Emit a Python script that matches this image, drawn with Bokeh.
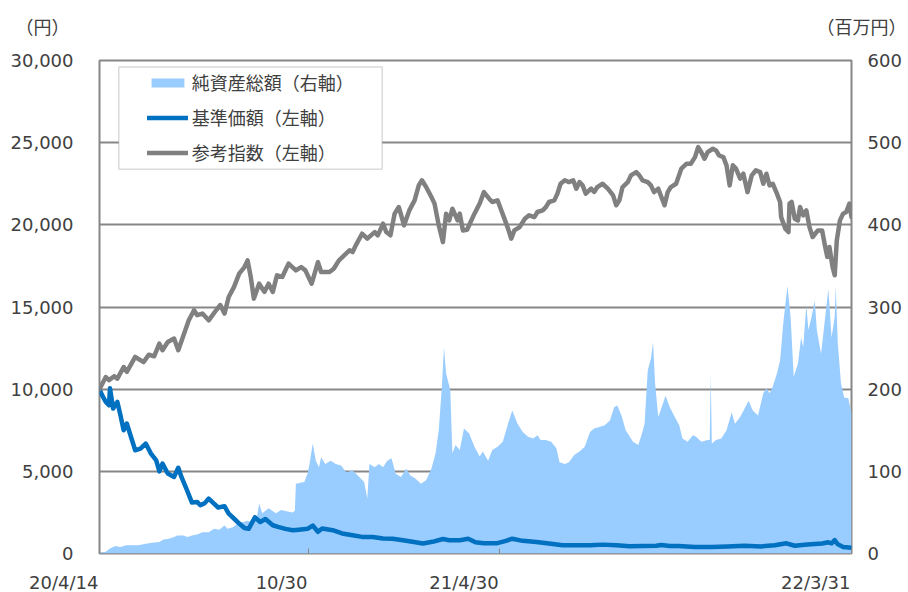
import pandas as pd
from bokeh.plotting import figure
from bokeh.layouts import column
from bokeh.models import (Range1d, LinearAxis, FixedTicker, NumeralTickFormatter,
                          Legend, LegendItem, Label, BoxAnnotation)
from bokeh.embed import file_html
from bokeh.resources import INLINE

START = pd.Timestamp("2020-04-14")
END = pd.Timestamp("2022-03-31")

# 純資産総額 (百万円, right axis): day offset from 2020-04-14, value
aum_day = [0, 6, 10, 15, 20, 25, 31, 37, 44, 50, 57, 61, 66, 71, 74, 80, 84, 88, 93, 98,
           104, 109, 114, 119, 122, 127, 131, 136, 141, 146, 150, 152, 155, 161, 168, 173, 179, 184, 186, 187,
           195, 198, 200, 203, 206, 209, 211, 215, 220, 225, 230, 235, 241, 246, 252, 255, 257, 262, 266, 270,
           274, 278, 282, 287, 292, 296, 301, 306, 311, 316, 320, 323, 326, 328, 330, 334, 336, 339, 343, 347,
           352, 357, 362, 365, 370, 374, 379, 384, 389, 393, 398, 403, 408, 413, 417, 420, 425, 430, 435, 438,
           443, 447, 452, 457, 462, 467, 471, 476, 481, 486, 490, 493, 497, 501, 508, 513, 516, 519, 522, 525,
           527, 529, 532, 535, 539, 543, 547, 552, 555, 560, 565, 568, 573, 579, 581, 582, 583, 587, 592, 597,
           602, 605, 610, 614, 618, 622, 627, 632, 635, 638, 641, 645, 648, 651, 655, 658, 661, 665, 668, 670,
           673, 675, 678, 681, 683, 687, 691, 694, 697, 700, 701, 703, 706, 709, 713, 716]
aum_val = [0.5, 2, 6, 9, 8, 10, 10, 10, 12, 13, 14, 17, 18, 20, 22, 22, 20, 22, 23, 26,
           26, 30, 29, 34, 30, 32, 36, 38, 40, 38, 45, 61, 49, 55, 49, 53, 51, 50, 52, 85,
           87, 97, 109, 134, 113, 105, 117, 109, 113, 109, 107, 99, 101, 95, 87, 67, 109, 105, 109, 105,
           113, 116, 97, 93, 103, 95, 91, 85, 89, 103, 122, 150, 203, 251, 219, 199, 122, 132, 126, 152,
           146, 130, 118, 124, 113, 126, 130, 136, 158, 174, 158, 148, 142, 140, 144, 138, 138, 136, 128, 111,
           109, 111, 120, 124, 130, 148, 152, 154, 156, 162, 178, 180, 168, 150, 136, 132, 144, 158, 223, 237,
           257, 207, 166, 177, 192, 178, 168, 156, 140, 136, 144, 142, 136, 138, 138, 217, 134, 138, 140, 150,
           172, 158, 166, 176, 186, 174, 168, 195, 201, 195, 203, 219, 235, 280, 326, 288, 215, 231, 263, 251,
           302, 272, 288, 308, 272, 243, 288, 322, 263, 288, 326, 255, 207, 190, 189, 170]

# 基準価額 (円, left axis)
nav_day = [0, 2, 6, 9, 10, 13, 17, 20, 23, 26, 30, 34, 39, 44, 49, 54, 57, 60, 65, 71,
           75, 78, 83, 88, 93, 96, 100, 104, 109, 113, 119, 123, 128, 133, 138, 142, 148, 153, 158, 165,
           170, 177, 184, 190, 198, 203, 208, 212, 222, 231, 241, 250, 260, 270, 279, 289, 298, 308, 317, 327,
           333, 343, 351, 358, 366, 378, 387, 393, 403, 416, 428, 441, 454, 467, 479, 492, 505, 517, 530, 535,
           543, 551, 567, 583, 598, 614, 630, 643, 654, 662, 674, 688, 694, 697, 700, 703, 708, 716]
nav_val = [10000, 9700, 9220, 9020, 10050, 8820, 9220, 8400, 7500, 7910, 7090, 6280, 6380, 6690, 6080, 5670, 5000, 5470, 4870, 4660,
           5220, 4660, 3900, 3100, 3140, 2940, 3050, 3340, 3040, 2800, 2880, 2430, 2130, 1820, 1550, 1500, 2200, 1920, 2100, 1720,
           1620, 1500, 1420, 1450, 1500, 1700, 1320, 1520, 1420, 1220, 1110, 1010, 1000, 910, 900, 810, 710, 610, 710, 880,
           810, 810, 900, 680, 620, 620, 770, 900, 770, 700, 610, 500, 500, 500, 540, 500, 440, 460, 470, 520,
           460, 450, 400, 400, 430, 470, 430, 500, 620, 470, 550, 610, 680, 620, 810, 560, 400, 350]

# 参考指数 (円, left axis)
idx_day = [0, 6, 9, 14, 17, 23, 26, 34, 42, 47, 52, 57, 60, 65, 71, 75, 80, 85, 90, 93,
           98, 104, 111, 115, 119, 123, 128, 133, 138, 141, 144, 147, 152, 157, 161, 165, 169, 174, 180, 187,
           192, 196, 202, 208, 211, 219, 223, 228, 233, 238, 241, 244, 250, 255, 262, 265, 270, 273, 277, 281,
           285, 290, 295, 300, 304, 307, 311, 316, 319, 323, 327, 330, 333, 336, 341, 343, 346, 350, 357, 362,
           366, 371, 374, 379, 382, 385, 389, 392, 395, 400, 405, 409, 414, 417, 422, 425, 428, 433, 436, 439,
           443, 447, 451, 454, 457, 460, 463, 468, 471, 474, 479, 484, 489, 492, 495, 498, 503, 506, 511, 514,
           517, 522, 525, 528, 532, 535, 538, 541, 544, 549, 554, 559, 563, 567, 570, 573, 576, 579, 584, 587,
           590, 594, 597, 600, 603, 606, 610, 613, 617, 621, 625, 629, 632, 635, 638, 641, 645, 648, 649, 653,
           656, 657, 659, 662, 665, 667, 670, 673, 676, 679, 684, 688, 691, 693, 695, 698, 700, 702, 705, 708,
           711, 714, 716]
idx_val = [10000, 10740, 10550, 10790, 10640, 11350, 11050, 11960, 11650, 12100, 12000, 12770, 12370, 12870, 13080, 12370, 13280, 14190, 14800, 14500,
           14600, 14190, 14800, 15120, 14600, 15610, 16210, 17030, 17430, 17840, 16830, 15510, 16420, 15920, 16420, 15920, 16930, 16830, 17640, 17230,
           17430, 17230, 16420, 17735, 17130, 17130, 17330, 17840, 18140, 18450, 18345, 18750, 19460, 19160, 19560, 19360, 20070, 19560, 19360, 20680,
           21080, 19970, 20880, 21490, 22400, 22710, 22300, 21690, 21290, 19970, 18950, 20680, 20270, 20980, 20270, 20680, 19660, 19700, 20680, 21300,
           21990, 21590, 21390, 21490, 20980, 20470, 19770, 19160, 19660, 19860, 20370, 20580, 20470, 20780, 20880, 21080, 21390, 21490, 21900, 22500,
           22710, 22600, 22710, 22200, 22600, 22400, 21900, 22200, 22000, 22300, 22500, 22200, 21790, 21190, 21490, 22300, 22600, 23010, 23210, 23010,
           22710, 22600, 22400, 21990, 22200, 21690, 21190, 21990, 22300, 22500, 23420, 23720, 23720, 24120, 24730, 24420, 24020, 24420, 24630, 24530,
           24220, 24120, 23620, 22400, 23620, 23420, 22810, 23110, 21990, 23010, 23320, 23210, 22500, 23110, 22400, 22500, 21900, 21390, 20470, 19770,
           19560, 21290, 21390, 20370, 20270, 21080, 20580, 20880, 19860, 19260, 19660, 19660, 18650, 18040, 18650, 17430, 16930, 19050, 20270, 20680,
           20780, 21290, 20470]

x_tick_dates = ["2020-04-14", "2020-10-30", "2021-04-30", "2022-03-31"]
x_tick_labels = ["20/4/14", "10/30", "21/4/30", "22/3/31"]
left_ticks = [0, 5000, 10000, 15000, 20000, 25000, 30000]
right_ticks = [0, 100, 200, 300, 400, 500, 600]
series_names = ["純資産総額（右軸）", "基準価額（左軸）", "参考指数（左軸）"]
unit_left = "（円）"
unit_right = "（百万円）"

TEXT = "#404040"
GRID = "#878787"
NUM_FONT = "DejaVu Sans"
JP_FONT = "Noto Sans CJK JP"

W = 908
TOP_H, MAIN_H, BOT_H = 48, 517, 27
FRAME_L, FRAME_R = 99, 851          # plot box edges on the page


def to_dates(days):
    return [(START + pd.Timedelta(days=d)).to_pydatetime() for d in days]


def ms(d):
    return pd.Timestamp(d).value / 1e6


def no_frame_align(fig):
    try:
        fig.frame_align = False
    except Exception:
        pass


# ---------- strip above: unit captions ----------
top = figure(width=W, height=TOP_H, x_range=Range1d(0, W), y_range=Range1d(0, TOP_H),
             x_axis_location=None, y_axis_location=None, min_border=0,
             output_backend="svg", toolbar_location=None)
no_frame_align(top)
top.outline_line_color = None
top.grid.visible = False
top.add_layout(Label(x=15, y=TOP_H - 25, x_units="screen", y_units="screen", text=unit_left,
                     text_align="left", text_baseline="middle",
                     text_font=JP_FONT, text_font_size="18px", text_color=TEXT))
top.add_layout(Label(x=W - 2, y=TOP_H - 25, x_units="screen", y_units="screen", text=unit_right,
                     text_align="right", text_baseline="middle",
                     text_font=JP_FONT, text_font_size="18px", text_color=TEXT))

# ---------- main chart ----------
p = figure(width=W, height=MAIN_H, x_axis_type="datetime",
           x_range=Range1d(START.to_pydatetime(), END.to_pydatetime()),
           y_range=Range1d(0, 30000),
           output_backend="svg", toolbar_location=None,
           min_border_left=FRAME_L, min_border_right=W - FRAME_R,
           min_border_top=12, min_border_bottom=12)
no_frame_align(p)
p.extra_y_ranges = {"aum": Range1d(0, 600)}
p.outline_line_color = GRID
p.outline_line_width = 2

area = p.varea(x=to_dates(aum_day), y1=0, y2=aum_val, y_range_name="aum",
               fill_color="#99CCFF", fill_alpha=1.0)
nav = p.line(to_dates(nav_day), nav_val, line_color="#0070C0", line_width=4.5,
             line_join="round", line_cap="round")
idx = p.line(to_dates(idx_day), idx_val, line_color="#808080", line_width=4.5,
             line_join="round", line_cap="round")

ya = p.yaxis[0]
ya.ticker = FixedTicker(ticks=left_ticks)
ya.formatter = NumeralTickFormatter(format="0,0")
ya.axis_line_color = None
ya.major_tick_line_color = None
ya.minor_tick_line_color = None
ya.major_tick_out = 0
ya.major_tick_in = 0
ya.axis_label_standoff = 0
ya.major_label_standoff = 26
ya.major_label_text_font = NUM_FONT
ya.major_label_text_font_size = "18px"
ya.major_label_text_color = TEXT

ra = LinearAxis(y_range_name="aum", ticker=FixedTicker(ticks=right_ticks))
ra.axis_line_color = None
ra.major_tick_line_color = None
ra.minor_tick_line_color = None
ra.major_tick_out = 0
ra.major_tick_in = 0
ra.axis_label_standoff = 0
ra.major_label_standoff = 16
ra.major_label_text_font = NUM_FONT
ra.major_label_text_font_size = "18px"
ra.major_label_text_color = TEXT
p.add_layout(ra, "right")

xa = p.xaxis[0]
tick_ms = [ms(d) for d in x_tick_dates]
xa.ticker = FixedTicker(ticks=tick_ms)
xa.major_label_overrides = {t: "" for t in tick_ms}
xa.major_label_standoff = 0
xa.major_label_text_font_size = "1px"
xa.axis_line_color = None
xa.major_tick_in = 5
xa.major_tick_out = 0
xa.major_tick_line_color = GRID
xa.major_tick_line_width = 1
xa.minor_tick_line_color = None

p.xgrid.visible = False
p.ygrid.grid_line_color = GRID
p.ygrid.grid_line_width = 2

p.add_layout(BoxAnnotation(left=19.3, right=282.7, bottom=384.3, top=486.6,
                           left_units="screen", right_units="screen",
                           bottom_units="screen", top_units="screen",
                           fill_color="white", fill_alpha=1.0,
                           line_color=GRID, line_width=1.5))

legend = Legend(items=[LegendItem(label=series_names[0], renderers=[area]),
                       LegendItem(label=series_names[1], renderers=[nav]),
                       LegendItem(label=series_names[2], renderers=[idx])],
                location=(47.7, 387.6), padding=0, margin=0, spacing=9,
                glyph_width=41, glyph_height=11, label_height=21, label_standoff=4,
                label_text_font=JP_FONT, label_text_font_size="18px", label_text_color=TEXT,
                border_line_color=None, background_fill_alpha=0)
p.add_layout(legend, "center")

# ---------- strip below: date labels, right-aligned at their dates ----------
px_per_ms = (FRAME_R - FRAME_L) / (ms(END) - ms(START))
bot = figure(width=W, height=BOT_H,
             x_range=Range1d(ms(START) - FRAME_L / px_per_ms, ms(END) + (W - FRAME_R) / px_per_ms),
             y_range=Range1d(0, BOT_H),
             x_axis_location=None, y_axis_location=None, min_border=0,
             output_backend="svg", toolbar_location=None)
no_frame_align(bot)
bot.outline_line_color = None
bot.grid.visible = False
for t, lab in zip(tick_ms, x_tick_labels):
    bot.add_layout(Label(x=t, y=10.3, x_units="data", y_units="screen", text=lab,
                         text_align="right", text_baseline="middle", x_offset=-1,
                         text_font=NUM_FONT, text_font_size="18px", text_color=TEXT))

layout = column(top, p, bot, spacing=0)
open("out.html", "w").write(file_html(layout, INLINE))
